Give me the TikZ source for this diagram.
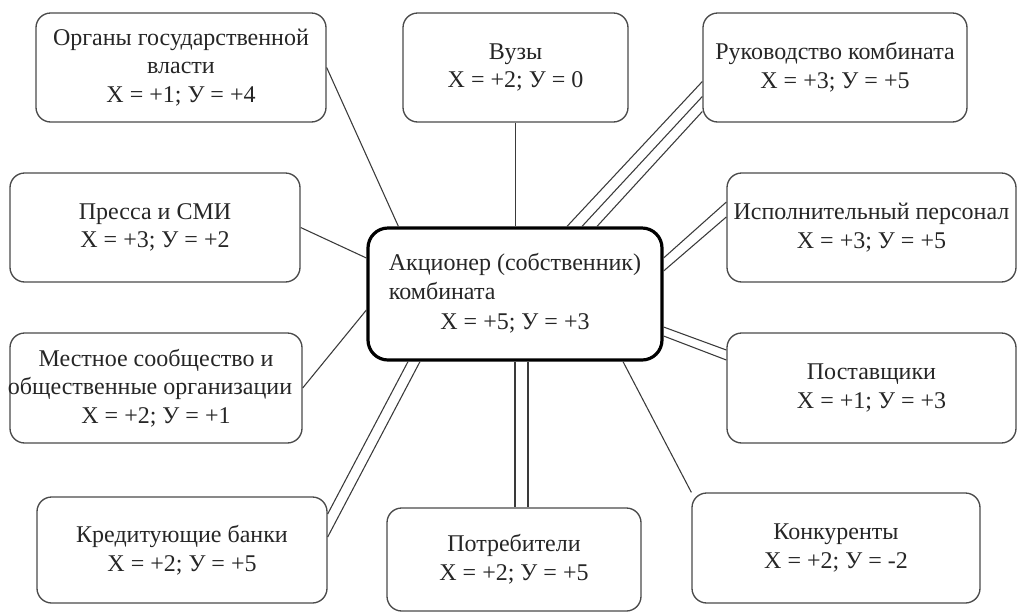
\documentclass[tikz,border=0pt]{standalone}
\usepackage{fontspec}
\setmainfont{Liberation Serif}
\usetikzlibrary{calc}
\definecolor{txt}{HTML}{262626}
\definecolor{edge}{HTML}{4A4A4A}
\definecolor{conn}{HTML}{3A3A3A}
\begin{document}
\begin{tikzpicture}[x=0.75pt,y=-0.75pt,
  box/.style={draw=edge, line width=1pt, rounded corners=11pt, inner sep=0pt,
    align=center, text=txt, font=\fontsize{18}{21.5}\selectfont},
  mainbox/.style={draw=black, line width=2.4pt, rounded corners=15pt, inner sep=0pt,
    text=txt, font=\fontsize{18}{21.5}\selectfont},
  link/.style={draw=conn, line width=0.8pt}]
\useasboundingbox (0,0) rectangle (1018,612);
\fill[white] (0,0) rectangle (1018,612);

\node[mainbox, minimum width=220.5pt, minimum height=99pt] (c) at (515,294)
  {\def\arraystretch{1.02}\begin{tabular}{@{}l@{}}Акционер (собственник)\\комбината\\\multicolumn{1}{@{}c@{}}{X = +5; У = +3}\end{tabular}};

\node[box, minimum width=217.5pt, minimum height=81.75pt] (org) at (181,67.5)
  {Органы государственной\\власти\\X = +1; У = +4};
\node[box, minimum width=168.75pt, minimum height=81.75pt] (vuz) at (515.5,67.5)
  {Вузы\\X = +2; У = 0};
\node[box, minimum width=198pt, minimum height=81.75pt] (ruk) at (835,67.5)
  {Руководство комбината\\X = +3; У = +5};
\node[box, minimum width=217.5pt, minimum height=81.75pt] (press) at (155,227.5)
  {Пресса и СМИ\\X = +3; У = +2};
\node[box, minimum width=216.75pt, minimum height=81.75pt] (isp) at (871.5,227.5)
  {Исполнительный персонал\\X = +3; У = +5};
\node[box, minimum width=219pt, minimum height=82.5pt] (mest) at (156,388)
  {Местное сообщество и\\\makebox[0pt]{общественные организации\hspace{9pt}}\\X = +2; У = +1};
\node[box, minimum width=216.75pt, minimum height=82.5pt] (post) at (871.5,388)
  {Поставщики\\X = +1; У = +3};
\node[box, minimum width=217.5pt, minimum height=79.5pt] (kred) at (182,550)
  {Кредитующие банки\\X = +2; У = +5};
\node[box, minimum width=190.5pt, minimum height=77.25pt] (potr) at (514,559.5)
  {Потребители\\X = +2; У = +5};
\node[box, minimum width=216pt, minimum height=82.5pt] (konk) at (836,548)
  {Конкуренты\\X = +2; У = -2};

% single connectors
\draw[link] (org.east) -- ([xshift=24pt]c.north west);
\draw[link] (vuz.south) -- (vuz.south |- c.north);
\draw[link] (press.east) -- ([yshift=27pt]c.west);
\draw[link] (mest.east) -- ([yshift=-12pt]c.west);
\draw[link] ([xshift=81pt]c.south) -- (konk.north west);

% triple connector to management
\draw[link] ([xshift=39pt]c.north) -- ([yshift=-10.5pt]ruk.west);
\draw[link] ([xshift=50.25pt]c.north) -- ([yshift=-21.75pt]ruk.west);
\draw[link] ([xshift=61.5pt]c.north) -- ([yshift=-33pt]ruk.west);

% double connectors
\draw[link] ([yshift=27pt]c.east) -- ([yshift=19.1pt]isp.west);
\draw[link] ([yshift=17.25pt]c.east) -- ([yshift=7.9pt]isp.west);
\draw[link] ([yshift=-24.75pt]c.east) -- ([yshift=28.5pt]post.west);
\draw[link] ([yshift=-31.5pt]c.east) -- ([yshift=21pt]post.west);
\draw[link] (c.south) -- (c.south |- potr.north);
\draw[link] ([xshift=9.75pt]c.south) -- ([xshift=9.75pt]c.south |- potr.north);
\draw[link] ([xshift=-80.25pt]c.south) -- ([yshift=27pt]kred.east);
\draw[link] ([xshift=-71.25pt]c.south) -- ([yshift=9.75pt]kred.east);
\end{tikzpicture}
\end{document}
